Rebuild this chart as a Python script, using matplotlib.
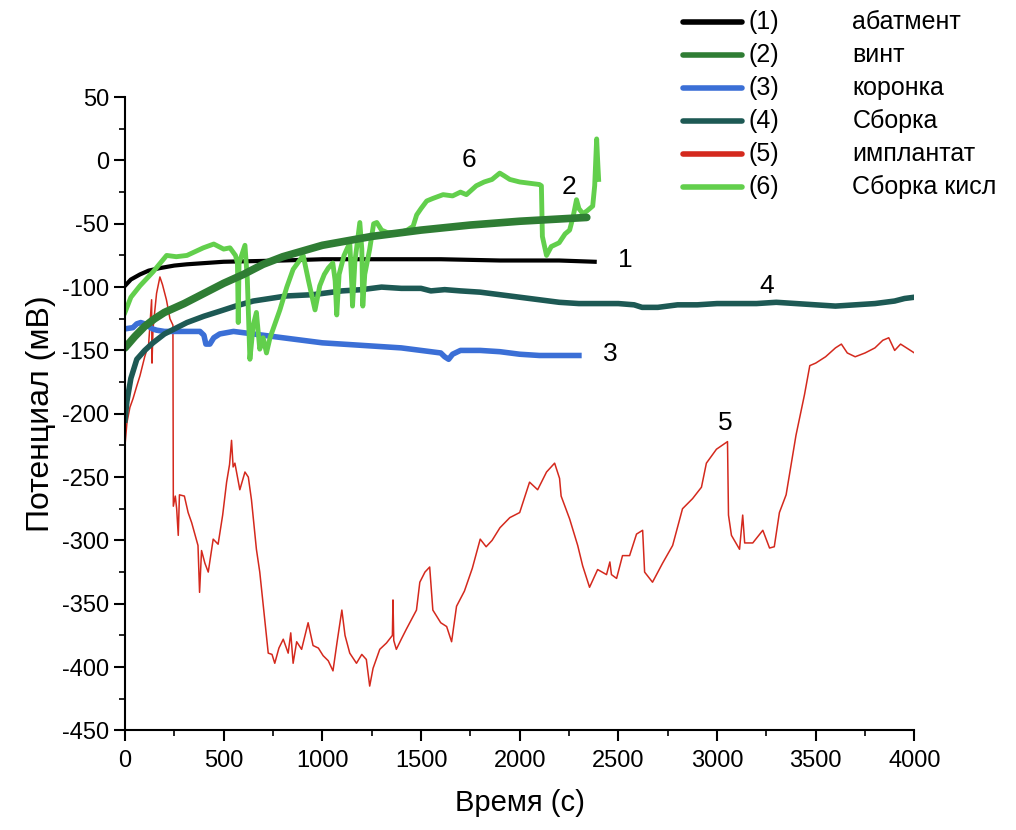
#Open circuit potential of implant parts over time
import numpy as np
import matplotlib.pyplot as plt
from matplotlib.lines import Line2D
from matplotlib.ticker import MultipleLocator

plt.rcParams['font.family'] = ['Liberation Sans', 'DejaVu Sans']
plt.rcParams['axes.unicode_minus'] = False

# (1) abutment
t1 = [0, 30, 76, 120, 177, 250, 314, 500, 800, 1000, 1300, 1600, 1900, 2200, 2380]
v1 = [-99, -94, -90, -87, -85, -83, -82, -80, -79, -78, -78, -78, -79, -79, -80]

# (2) screw
t2 = [0, 50, 100, 150, 200, 300, 400, 500, 600, 700, 800, 1000, 1250, 1500, 1750, 2000, 2340]
v2 = [-148, -139, -131, -125, -120, -113, -105, -97, -90, -82, -76, -67, -60, -55, -51, -48, -45]

# (3) crown
t3 = [0, 40, 60, 80, 100, 140, 160, 200, 300, 380, 400, 410, 430, 450, 480, 550, 650, 800,
      1000, 1200, 1400, 1500, 1600, 1620, 1640, 1660, 1700, 1800, 1900, 2000, 2100, 2200, 2300]
v3 = [-133, -132, -129, -128, -129, -133, -134, -135, -135, -135, -138, -145, -145, -140, -137, -135, -137, -140,
      -144, -146, -148, -150, -152, -155, -157, -153, -150, -150, -151, -153, -154, -154, -154]

# (4) assembly
t4 = [0, 10, 30, 60, 100, 142, 200, 314, 400, 481, 560, 650, 818, 952, 1100, 1200, 1300, 1400, 1500, 1550,
      1620, 1700, 1800, 1900, 2000, 2100, 2200, 2300, 2400, 2500, 2580, 2620, 2700, 2800, 2900, 3000,
      3100, 3200, 3300, 3400, 3500, 3600, 3700, 3800, 3900, 3950, 4000]
v4 = [-205, -190, -172, -157, -150, -144, -137, -128, -123, -119, -115, -111, -107, -106, -103, -102, -100, -101, -101, -103,
      -102, -103, -104, -106, -108, -110, -112, -113, -113, -113, -114, -116, -116, -114, -114, -113,
      -113, -113, -112, -113, -114, -115, -114, -113, -111, -109, -108]

# (5) implant
t5 = [0, 10, 25, 41, 60, 76, 100, 120, 135, 137,
      142, 160, 177, 190, 210, 228, 243, 245, 255, 262,
      270, 276, 301, 320, 338, 370, 378, 388, 405, 422,
      447, 472, 495, 515, 530, 540, 548, 557, 582, 608,
      625, 641, 666, 683, 700, 717, 726, 745, 759, 780,
      802, 827, 840, 852, 870, 895, 928, 953, 980, 1004,
      1030, 1054, 1075, 1099, 1115, 1139, 1173, 1200, 1223, 1240,
      1257, 1291, 1325, 1355, 1358, 1362, 1375, 1400, 1426, 1477,
      1494, 1520, 1544, 1560, 1600, 1630, 1655, 1680, 1720, 1760,
      1800, 1830, 1860, 1900, 1950, 2000, 2050, 2091, 2136, 2177,
      2202, 2210, 2253, 2294, 2319, 2354, 2395, 2440, 2457, 2465,
      2491, 2521, 2557, 2592, 2623, 2633, 2673, 2724, 2775, 2825,
      2876, 2921, 2946, 2997, 3053, 3058, 3073, 3114, 3130, 3140,
      3181, 3232, 3266, 3290, 3316, 3350, 3400, 3443, 3470, 3500,
      3550, 3600, 3630, 3660, 3700, 3750, 3800, 3840, 3870, 3900,
      3930, 3960, 4000]
v5 = [-225, -207, -195, -188, -178, -170, -155, -145, -110, -160,
      -133, -105, -92, -98, -110, -125, -130, -273, -265, -275,
      -296, -264, -265, -278, -286, -304, -341, -308, -318, -325,
      -299, -303, -280, -254, -240, -221, -242, -239, -260, -246,
      -250, -268, -307, -325, -350, -375, -389, -390, -397, -385,
      -378, -389, -373, -397, -380, -386, -365, -383, -385, -391,
      -395, -403, -380, -355, -375, -389, -397, -390, -394, -415,
      -401, -386, -381, -375, -347, -379, -386, -378, -370, -355,
      -333, -325, -321, -355, -365, -368, -380, -352, -340, -322,
      -299, -305, -300, -290, -282, -278, -254, -260, -246, -239,
      -251, -265, -283, -304, -320, -337, -323, -327, -317, -327,
      -330, -312, -312, -295, -292, -325, -333, -318, -304, -275,
      -267, -258, -239, -228, -222, -280, -296, -307, -280, -302,
      -302, -292, -306, -305, -278, -264, -217, -185, -162, -160,
      -155, -148, -145, -152, -155, -152, -148, -142, -140, -150,
      -145, -148, -152]

# (6) assembly in acid
t6 = [0, 30, 76, 142, 211, 260, 314, 397, 450, 500,
      532, 560, 570, 574, 578, 608, 620, 633, 650, 666,
      683, 700, 717, 735, 785, 820, 852, 903, 930, 963,
      987, 1010, 1030, 1053, 1065, 1073, 1085, 1110, 1139, 1150,
      1153, 1165, 1190, 1200, 1205, 1215, 1240, 1260, 1276, 1300,
      1330, 1392, 1430, 1460, 1478, 1500, 1529, 1560, 1612, 1660,
      1700, 1730, 1780, 1820, 1860, 1899, 1920, 1950, 2000, 2050,
      2100, 2110, 2115, 2136, 2160, 2200, 2230, 2253, 2270, 2288,
      2300, 2320, 2340, 2370, 2380, 2390, 2395, 2400]
v6 = [-120, -108, -99, -88, -75, -76, -75, -69, -66, -70,
      -69, -75, -81, -128, -81, -67, -94, -157, -130, -120,
      -149, -140, -152, -140, -118, -100, -86, -75, -95, -118,
      -99, -90, -85, -81, -95, -122, -90, -75, -65, -100,
      -115, -80, -49, -70, -115, -90, -70, -50, -49, -55,
      -57, -57, -55, -52, -43, -38, -32, -30, -27, -28,
      -25, -27, -20, -17, -15, -10, -12, -15, -17, -18,
      -19, -20, -60, -75, -68, -65, -58, -55, -45, -31,
      -38, -42, -40, -36, -20, 17, 0, -15]

numbers = ['(1)', '(2)', '(3)', '(4)', '(5)', '(6)']
names = ['абатмент', 'винт', 'коронка', 'Сборка', 'имплантат', 'Сборка кисл']
colors = ['#000000', '#2f7d34', '#3b6fd6', '#1d5954', '#d4291d', '#62cf4c']

fig = plt.figure(figsize=(10.16, 8.3), dpi=100)
ax = fig.add_axes([0.123, 0.12, 0.777, 0.763])

# draw order: implant underneath, screw on top
ax.plot(t5, v5, color=colors[4], lw=1.1)
ax.plot(t3, v3, color=colors[2], lw=4)
ax.plot(t4, v4, color=colors[3], lw=4)
ax.plot(t1, v1, color=colors[0], lw=3)
ax.plot(t6, v6, color=colors[5], lw=3.5)
ax.plot(t2, v2, color=colors[1], lw=5.5, solid_capstyle='round')

# curve numbers
for s, tx, ty in [('6', 1705, 0), ('2', 2215, -21), ('1', 2500, -79),
                  ('4', 3215, -99), ('3', 2420, -153), ('5', 3005, -207)]:
    ax.text(tx, ty, s, fontsize=19, ha='left', va='center')

ax.set_xlim(0, 4000)
ax.set_ylim(-450, 50)
ax.xaxis.set_major_locator(MultipleLocator(500))
ax.xaxis.set_minor_locator(MultipleLocator(250))
ax.yaxis.set_major_locator(MultipleLocator(50))
ax.yaxis.set_minor_locator(MultipleLocator(25))
ax.tick_params(which='major', direction='out', length=8, width=1.5, labelsize=17)
ax.tick_params(axis='x', which='major', pad=6)
ax.tick_params(which='minor', direction='out', length=4, width=1.2)
ax.spines['top'].set_visible(False)
ax.spines['right'].set_visible(False)
ax.spines['left'].set_linewidth(1.5)
ax.spines['bottom'].set_linewidth(1.5)
ax.set_xlabel('Время (с)', fontsize=21, labelpad=12)
ax.set_ylabel('Потенциал (мВ)', fontsize=23, labelpad=4)

# legend at top right
for i in range(6):
    y = 1 - (22 + 33 * i) / 830
    fig.add_artist(Line2D([0.672, 0.730], [y, y], color=colors[i], lw=4,
                          solid_capstyle='round', transform=fig.transFigure))
    fig.text(0.737, y, numbers[i], fontsize=18, va='center')
    fig.text(0.839, y, names[i], fontsize=18, va='center')

fig.savefig('out.png', dpi=100)
